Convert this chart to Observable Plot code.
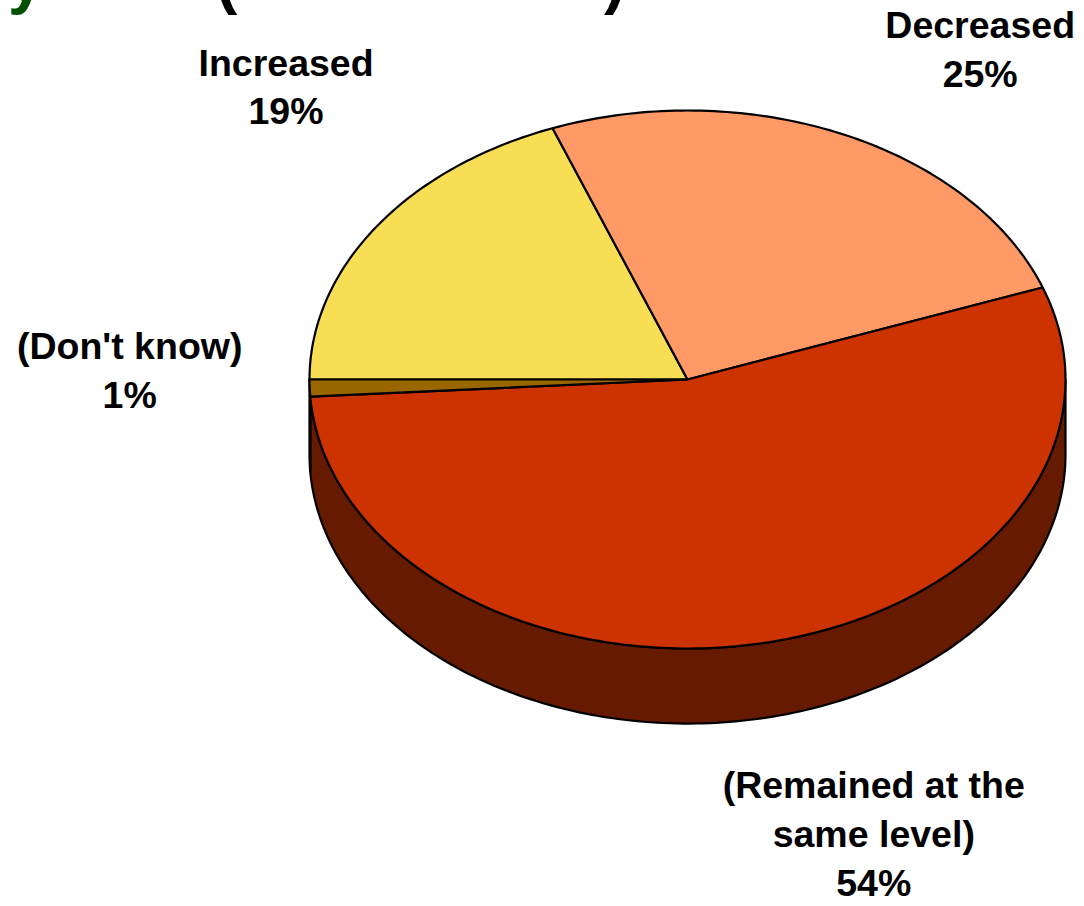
<!DOCTYPE html>
<html>
<head>
<meta charset="utf-8">
<script src="https://cdn.jsdelivr.net/npm/d3@7"></script>
<script src="https://cdn.jsdelivr.net/npm/@observablehq/plot@0.6"></script>
<style>
  html, body { margin: 0; padding: 0; background: #fff; }
  #wrap { position: relative; width: 1084px; height: 906px; overflow: hidden; }
  #title { position: absolute; left: 0; top: 0; }
  #chart { position: absolute; left: 0; top: 0; }
</style>
</head>
<body>
<div id="wrap">
  <div id="chart"></div>
  <svg id="title" width="1084" height="40" font-family="Liberation Sans, Arial, sans-serif" font-weight="bold" font-size="64">
    <text x="8" y="2" fill="#005000">y</text>
    <text x="216" y="2" fill="#000">(</text>
    <text x="604" y="2" fill="#000">)</text>
  </svg>
</div>
<script>
// ---- data ----
const categories = ["Increased", "Decreased", "(Remained at the\nsame level)", "(Don't know)"];
const values = [19, 25, 54, 1];
const valueLabels = ["19%", "25%", "54%", "1%"];
const topColors = ["#F8DE55", "#FF9966", "#CC3300", "#996600"];
const sideColors = ["#8A7A2A", "#8A4A30", "#661A00", "#4D3300"];

// ---- layout ----
const startAngle = 270;   // degrees clockwise from 12 o'clock where first slice starts
const depth = 0.279;      // side wall depth in y data units
const labelRadius = 1.45;
const labelNudge = [[50, -74], [65, 22], [74, 70], [-10, -24]];

const total = d3.sum(values);
const rad = (deg) => deg * Math.PI / 180;
let acc = startAngle;
const slices = categories.map((c, i) => {
  const a0 = acc, a1 = acc + values[i] / total * 360;
  acc = a1;
  return {i, name: c, t0: a0 - 90, t1: a1 - 90};
});

const topPolys = [];
const sidePolys = [];
slices.forEach((s) => {
  const pts = [{x: 0, y: 0, k: s.i}];
  const n = Math.max(2, Math.ceil(s.t1 - s.t0));
  for (let j = 0; j <= n; j++) {
    const t = s.t0 + (s.t1 - s.t0) * j / n;
    pts.push({x: Math.cos(rad(t)), y: Math.sin(rad(t)), k: s.i});
  }
  topPolys.push({i: s.i, pts});
  // visible side wall: lower half t in [0,180] (mod 360)
  for (const off of [-360, 0, 360]) {
    const lo = Math.max(s.t0, off), hi = Math.min(s.t1, off + 180);
    if (hi - lo > 0.01) {
      const m = Math.max(2, Math.ceil(hi - lo));
      const upper = [], lower = [];
      for (let j = 0; j <= m; j++) {
        const t = lo + (hi - lo) * j / m;
        upper.push({x: Math.cos(rad(t)), y: Math.sin(rad(t)), k: s.i});
        lower.push({x: Math.cos(rad(t)), y: Math.sin(rad(t)) + depth, k: s.i});
      }
      sidePolys.push({i: s.i, pts: upper.concat(lower.reverse())});
    }
  }
});

const labelData = slices.map((s) => {
  const mid = (s.t0 + s.t1) / 2;
  return {
    x: Math.cos(rad(mid)) * labelRadius,
    y: Math.sin(rad(mid)) * labelRadius,
    text: s.name + "\n" + valueLabels[s.i],
    i: s.i
  };
});

const marks = [];
sidePolys.forEach((p) => {
  marks.push(Plot.line(p.pts, {x: "x", y: "y", fill: sideColors[p.i], stroke: "#000", strokeWidth: 2.2, strokeLinejoin: "round", curve: "linear-closed"}));
});
topPolys.forEach((p) => {
  marks.push(Plot.line(p.pts, {x: "x", y: "y", fill: topColors[p.i], stroke: "#000", strokeWidth: 2.2, strokeLinejoin: "round", curve: "linear-closed"}));
});
labelData.forEach((d) => {
  marks.push(Plot.text([d], {
    x: "x", y: "y", text: "text",
    dx: labelNudge[d.i][0], dy: labelNudge[d.i][1],
    fontSize: 37.5, fontWeight: "bold", lineHeight: 1.3, fill: "#000",
    textAnchor: "middle", lineAnchor: "middle"
  }));
});

const chart = Plot.plot({
  width: 1084,
  height: 906,
  margin: 0,
  style: {fontFamily: "Liberation Sans, Arial, sans-serif", background: "transparent"},
  x: {domain: [-1, 1], range: [309, 1065], axis: null},
  y: {domain: [-1, 1], range: [110, 648], axis: null},
  marks
});
document.getElementById("chart").appendChild(chart);
</script>
</body>
</html>
